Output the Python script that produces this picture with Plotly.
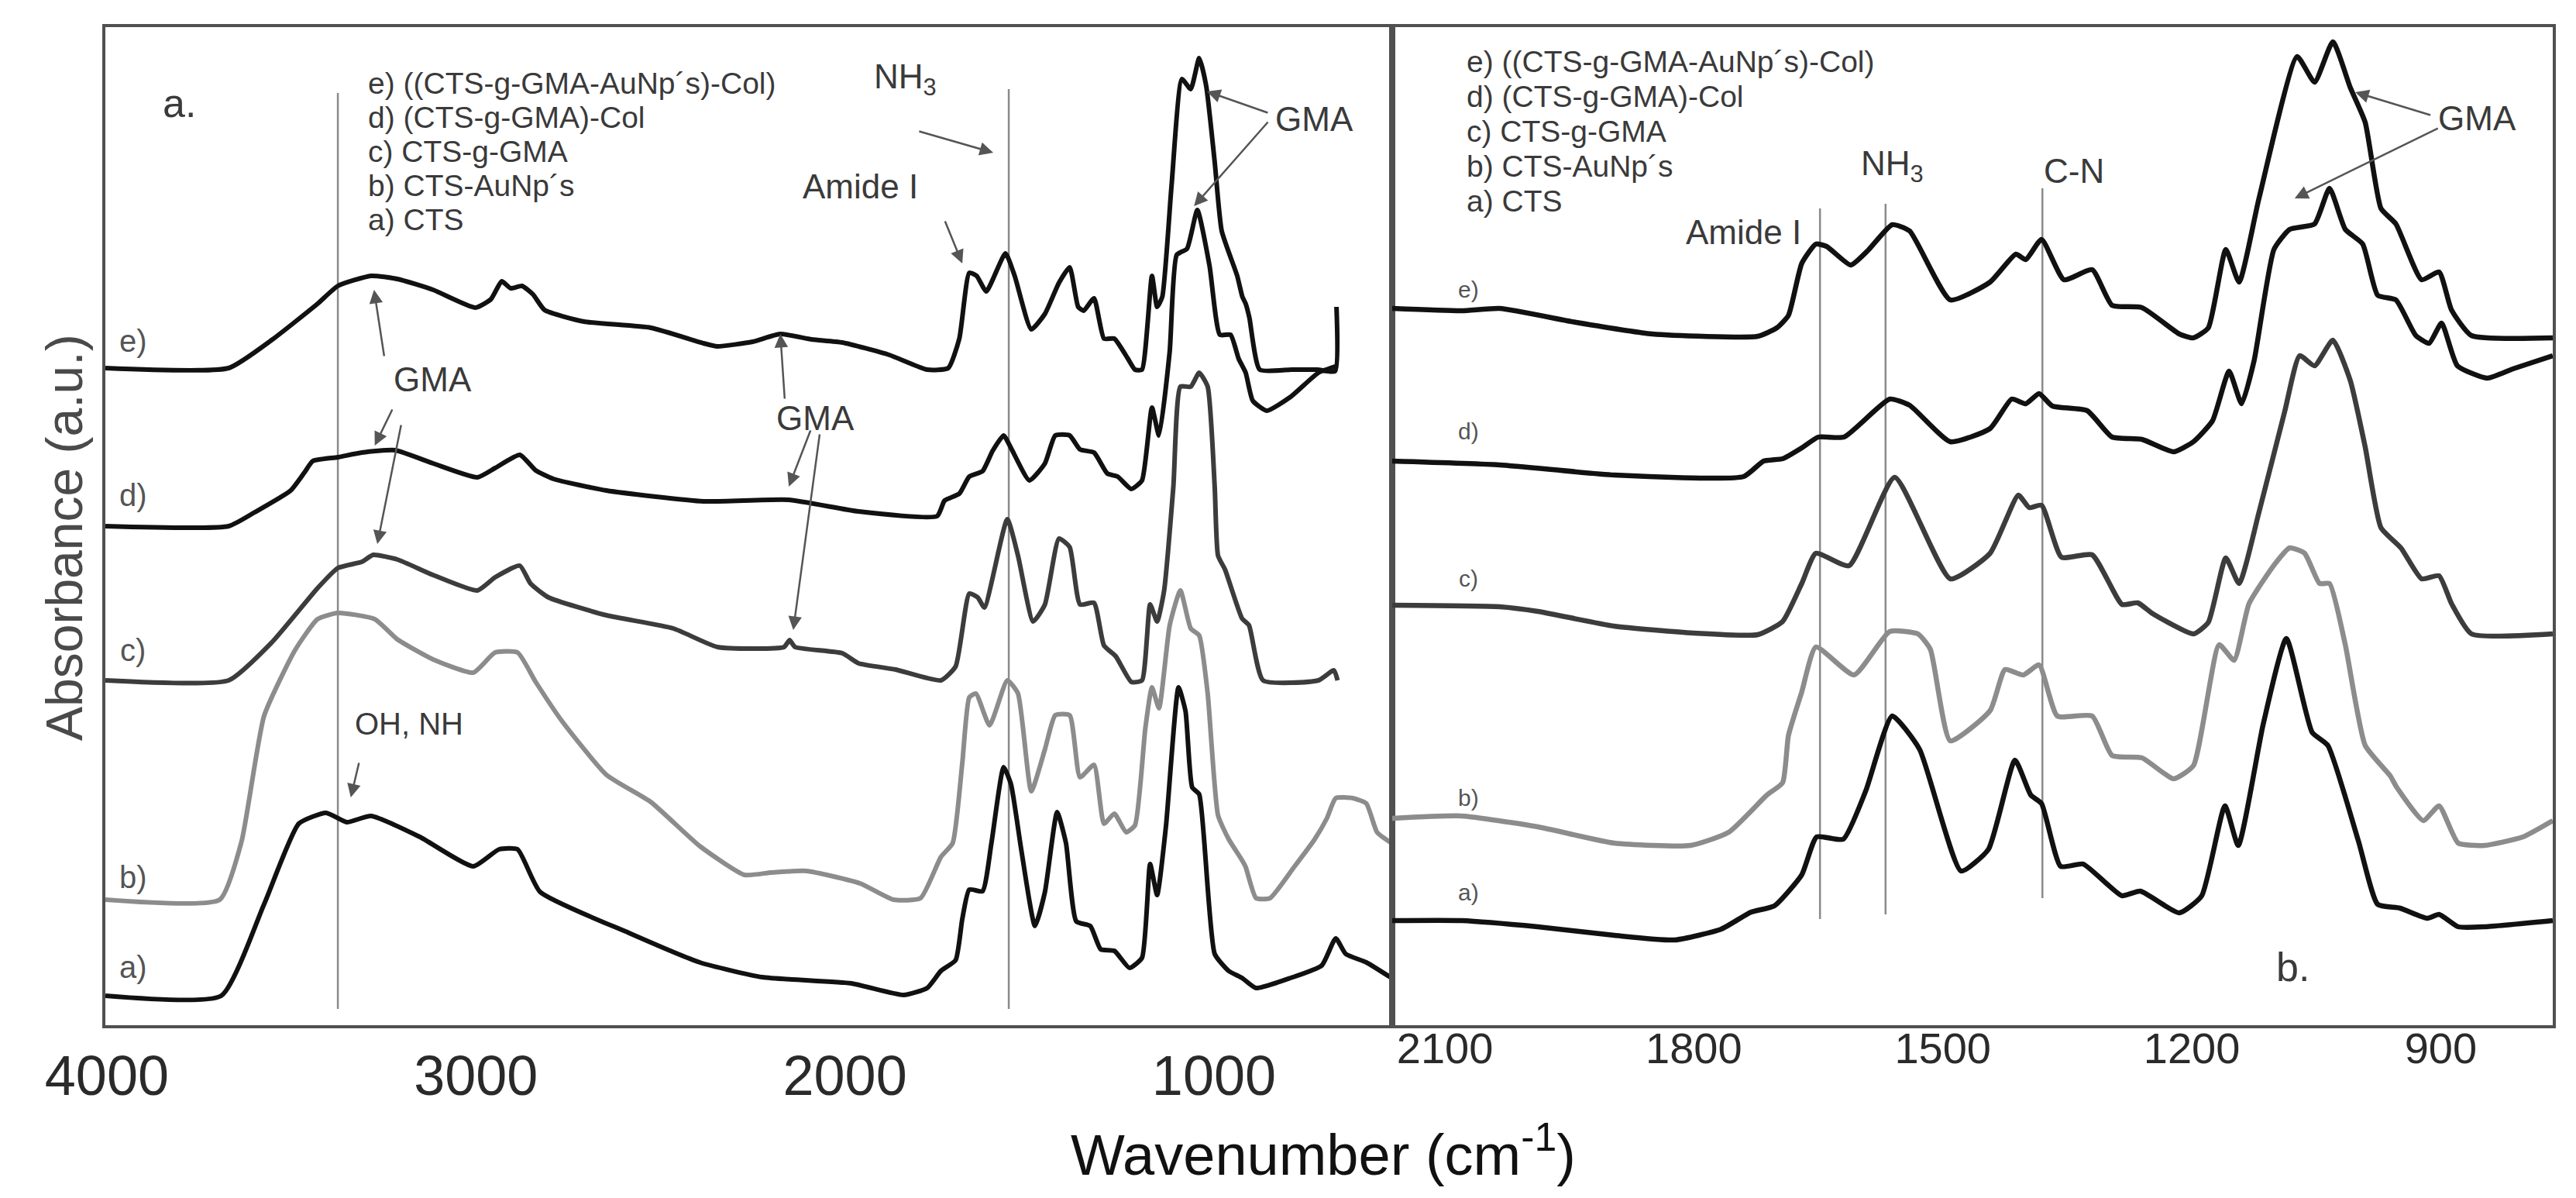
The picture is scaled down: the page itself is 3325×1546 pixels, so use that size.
import plotly.graph_objects as go

# ---------------- data (wavenumber, absorbance in stacked a.u.) ----------------
left_a_wn = [4004, 3690, 3574, 3480, 3406, 3350, 3284, 3152, 3007, 2937, 2887, 2826, 2585, 2393, 2224, 1983, 1841,
             1777, 1740, 1700, 1682, 1663, 1627, 1603, 1570, 1550, 1522, 1485, 1458, 1425, 1401, 1373, 1335, 1307,
             1270, 1229, 1195, 1173, 1154, 1130, 1096, 1077, 1059, 1040, 998, 960, 924, 886, 792, 708, 670, 643, 587, 519]
left_a_abs = [0.38, 0.38, 1.56, 2.60, 2.74, 2.62, 2.70, 2.43, 2.05, 2.27, 2.27, 1.72, 1.19, 0.81, 0.62, 0.54, 0.39,
              0.48, 0.70, 0.84, 1.37, 1.75, 1.73, 2.35, 3.33, 3.11, 2.26, 1.28, 1.72, 2.75, 2.35, 1.34, 1.28, 0.98,
              0.96, 0.74, 0.87, 2.08, 1.68, 2.57, 4.36, 4.05, 3.07, 2.98, 0.92, 0.70, 0.61, 0.48, 0.61, 0.77, 1.12, 0.92, 0.81, 0.61]

left_b_wn = [4004, 3694, 3635, 3574, 3490, 3429, 3374, 3274, 3213, 3116, 3007, 2948, 2887, 2838, 2766, 2646, 2526,
             2393, 2272, 2200, 2104, 1959, 1869, 1795, 1740, 1708, 1682, 1663, 1645, 1608, 1560, 1531, 1495, 1458,
             1430, 1391, 1363, 1325, 1298, 1270, 1238, 1214, 1186, 1168, 1149, 1120, 1091, 1063, 1040, 1017, 989,
             960, 924, 914, 886, 848, 783, 727, 694, 670, 624, 587, 558, 519]
left_b_abs = [1.62, 1.62, 2.37, 3.99, 4.84, 5.24, 5.32, 5.24, 4.98, 4.72, 4.55, 4.81, 4.81, 4.43, 3.92, 3.23, 2.88,
              2.31, 1.94, 1.97, 1.99, 1.83, 1.62, 1.64, 2.17, 2.35, 3.38, 4.23, 4.28, 3.87, 4.45, 4.28, 3.02, 3.56,
              4.00, 4.00, 3.20, 3.36, 2.60, 2.73, 2.49, 2.58, 3.83, 4.36, 4.09, 5.16, 5.61, 5.12, 5.03, 4.28, 2.71,
              2.40, 2.13, 2.04, 1.64, 1.64, 2.04, 2.40, 2.67, 2.93, 2.93, 2.86, 2.49, 2.35]

left_c_wn = [4004, 3670, 3551, 3429, 3374, 3309, 3278, 3213, 3116, 2996, 2948, 2881, 2852, 2803, 2646, 2465, 2345,
             2165, 2150, 2135, 2007, 1963, 1863, 1740, 1700, 1663, 1640, 1622, 1560, 1531, 1490, 1458, 1420, 1391,
             1363, 1325, 1298, 1266, 1224, 1195, 1173, 1154, 1135, 1110, 1091, 1063, 1040, 1017, 998, 989, 970,
             924, 905, 867, 717, 675, 665]
left_c_abs = [4.45, 4.45, 4.95, 5.64, 5.90, 5.98, 6.07, 6.01, 5.81, 5.61, 5.78, 5.93, 5.70, 5.52, 5.29, 5.12, 4.88,
              4.88, 4.97, 4.88, 4.80, 4.67, 4.59, 4.45, 4.63, 5.57, 5.52, 5.39, 6.53, 6.06, 5.21, 5.43, 6.28, 6.17,
              5.43, 5.45, 4.90, 4.76, 4.43, 4.45, 5.43, 5.21, 5.61, 6.95, 8.24, 8.24, 8.42, 8.24, 6.95, 6.06, 5.88,
              5.25, 5.16, 4.45, 4.45, 4.58, 4.45]

left_d_wn = [4004, 3670, 3599, 3502, 3465, 3442, 3374, 3309, 3219, 3116, 2996, 2948, 2881, 2838, 2790, 2646, 2383,
             2153, 1963, 1750, 1730, 1690, 1663, 1627, 1600, 1570, 1548, 1500, 1458, 1430, 1391, 1363, 1325, 1289,
             1261, 1224, 1195, 1168, 1149, 1120, 1101, 1073, 1045, 1012, 984, 955, 933, 914, 895, 857, 792, 717, 665]
left_d_abs = [6.44, 6.44, 6.62, 6.90, 7.13, 7.28, 7.33, 7.39, 7.42, 7.25, 7.07, 7.19, 7.36, 7.16, 7.05, 6.90, 6.76,
              6.78, 6.63, 6.57, 6.77, 6.86, 7.08, 7.15, 7.41, 7.61, 7.43, 7.03, 7.25, 7.61, 7.61, 7.43, 7.39, 7.12,
              7.08, 6.92, 7.03, 7.97, 7.61, 8.69, 9.94, 10.02, 10.52, 9.80, 8.91, 8.91, 8.60, 8.42, 8.06, 7.93, 8.11, 8.42, 8.51]

left_e_wn = [4004, 3670, 3551, 3429, 3374, 3284, 3213, 3116, 3001, 2959, 2930, 2906, 2875, 2845, 2814, 2707, 2526,
             2383, 2346, 2250, 2176, 2090, 2007, 1880, 1777, 1720, 1690, 1663, 1643, 1617, 1565, 1540, 1495, 1458,
             1420, 1391, 1368, 1353, 1325, 1298, 1270, 1233, 1214, 1195, 1168, 1154, 1140, 1115, 1087, 1063, 1040,
             1021, 998, 979, 937, 923, 914, 904, 876, 790, 720, 672, 668]
left_e_abs = [8.48, 8.48, 8.85, 9.31, 9.54, 9.67, 9.63, 9.49, 9.26, 9.37, 9.60, 9.51, 9.54, 9.43, 9.23, 9.08, 9.00,
              8.80, 8.76, 8.82, 8.92, 8.85, 8.81, 8.65, 8.46, 8.48, 8.86, 9.71, 9.67, 9.47, 9.96, 9.67, 8.98, 9.18,
              9.58, 9.78, 9.27, 9.22, 9.38, 8.86, 8.86, 8.60, 8.46, 8.46, 9.67, 9.27, 9.40, 10.83, 12.21, 12.08, 12.48,
              12.12, 11.14, 10.25, 9.67, 9.40, 9.31, 9.13, 8.46, 8.46, 8.46, 8.44, 9.27]

right_a_wn = [2164, 2080, 1988, 1896, 1823, 1767, 1731, 1703, 1670, 1652, 1620, 1593, 1561, 1528, 1478, 1445, 1413,
              1394, 1381, 1358, 1331, 1303, 1284, 1262, 1215, 1188, 1160, 1144, 1114, 1086, 1055, 1036, 999, 976,
              949, 916, 902, 879, 847, 765]
right_a_abs = [1.35, 1.35, 1.27, 1.16, 1.10, 1.24, 1.46, 1.54, 1.94, 2.43, 2.40, 3.02, 3.99, 3.56, 1.99, 2.27, 3.42,
               2.97, 2.86, 2.05, 2.08, 1.83, 1.67, 1.73, 1.45, 1.67, 2.83, 2.32, 3.88, 4.99, 3.78, 3.61, 2.37, 1.56,
               1.51, 1.38, 1.43, 1.27, 1.27, 1.35]

right_b_wn = [2164, 2080, 1988, 1896, 1804, 1758, 1712, 1693, 1686, 1670, 1653, 1607, 1564, 1530, 1515, 1491, 1443,
              1425, 1403, 1384, 1362, 1320, 1296, 1260, 1222, 1198, 1167, 1149, 1131, 1100, 1082, 1064, 1046, 1034,
              1015, 991, 961, 953, 921, 902, 879, 847, 801, 765]
right_b_abs = [2.67, 2.70, 2.56, 2.35, 2.32, 2.49, 2.97, 3.13, 3.74, 4.30, 4.88, 4.52, 5.08, 5.05, 4.85, 3.67, 4.06,
               4.59, 4.52, 4.65, 3.99, 3.99, 3.48, 3.45, 3.18, 3.35, 4.91, 4.71, 5.44, 5.95, 6.16, 6.09, 5.70, 5.70,
               4.91, 3.61, 3.22, 3.07, 2.64, 2.83, 2.35, 2.32, 2.43, 2.64]

right_c_wn = [2164, 2034, 1988, 1896, 1800, 1723, 1693, 1670, 1653, 1613, 1558, 1491, 1443, 1409, 1396, 1381, 1357,
              1320, 1284, 1265, 1247, 1198, 1180, 1159, 1143, 1119, 1088, 1070, 1052, 1030, 1009, 991, 972, 948,
              923, 902, 887, 863, 765]
right_c_abs = [5.42, 5.40, 5.34, 5.15, 5.06, 5.04, 5.21, 5.70, 6.09, 5.93, 7.07, 5.76, 6.09, 6.84, 6.68, 6.71, 6.04,
               6.07, 5.43, 5.45, 5.31, 5.05, 5.20, 6.03, 5.70, 6.62, 7.92, 8.64, 8.51, 8.84, 8.32, 7.46, 6.42, 6.16,
               5.76, 5.80, 5.44, 5.05, 5.05]

right_d_wn = [2164, 2034, 1896, 1740, 1716, 1693, 1670, 1650, 1619, 1564, 1540, 1491, 1443, 1417, 1400, 1384, 1368,
              1326, 1296, 1260, 1222, 1198, 1175, 1155, 1140, 1125, 1101, 1082, 1052, 1034, 1015, 994, 976, 954,
              930, 914, 899, 880, 844, 813, 765]
right_d_abs = [7.28, 7.23, 7.10, 7.08, 7.28, 7.31, 7.45, 7.59, 7.59, 8.08, 8.00, 7.53, 7.70, 8.08, 8.02, 8.15, 7.99,
               7.93, 7.59, 7.56, 7.40, 7.53, 7.80, 8.44, 8.02, 8.57, 10.01, 10.27, 10.34, 10.80, 10.27, 10.08, 9.42,
               9.36, 8.90, 8.80, 9.06, 8.51, 8.35, 8.47, 8.64]

right_e_wn = [2164, 2080, 2034, 1942, 1850, 1723, 1700, 1686, 1670, 1653, 1640, 1611, 1590, 1561, 1540, 1491, 1443,
              1412, 1400, 1381, 1354, 1320, 1296, 1260, 1215, 1198, 1180, 1159, 1143, 1119, 1073, 1052, 1030, 1009,
              991, 972, 954, 923, 902, 887, 863, 765]
right_e_abs = [9.25, 9.22, 9.25, 9.07, 8.92, 8.89, 9.00, 9.16, 9.83, 10.08, 10.05, 9.81, 10.00, 10.33, 10.25, 9.36,
               9.59, 9.95, 9.88, 10.14, 9.62, 9.75, 9.29, 9.26, 8.92, 8.87, 9.00, 10.01, 9.59, 10.67, 12.50, 12.17,
               12.69, 12.10, 11.65, 10.54, 10.34, 9.62, 9.72, 9.23, 8.90, 8.87]

curve_keys = ["a", "b", "c", "d", "e"]
curve_labels = ["a)", "b)", "c)", "d)", "e)"]
legend_lines = ["e) ((CTS-g-GMA-AuNp´s)-Col)", "d) (CTS-g-GMA)-Col", "c) CTS-g-GMA",
                "b) CTS-AuNp´s", "a) CTS"]
left_ticks = [4000, 3000, 2000, 1000]
right_ticks = [2100, 1800, 1500, 1200, 900]

left_data = {"a": (left_a_wn, left_a_abs), "b": (left_b_wn, left_b_abs), "c": (left_c_wn, left_c_abs),
             "d": (left_d_wn, left_d_abs), "e": (left_e_wn, left_e_abs)}
right_data = {"a": (right_a_wn, right_a_abs), "b": (right_b_wn, right_b_abs), "c": (right_c_wn, right_c_abs),
              "d": (right_d_wn, right_d_abs), "e": (right_e_wn, right_e_abs)}

# ---------------- styling ----------------
W, H = 3325, 1546
FONT = "Liberation Sans, Arial, sans-serif"
colors = {"a": "#111111", "b": "#8c8c8c", "c": "#3c3c3c", "d": "#111111", "e": "#111111"}
TXT = "#3a3a3a"
ARW = "#555555"

fig = go.Figure()
for k in curve_keys:
    wn, ab = left_data[k]
    fig.add_trace(go.Scatter(x=wn, y=ab, mode="lines", xaxis="x", yaxis="y",
                             line=dict(color=colors[k], width=6, shape="spline", smoothing=0.5),
                             showlegend=False, hoverinfo="skip"))
for k in curve_keys:
    wn, ab = right_data[k]
    fig.add_trace(go.Scatter(x=wn, y=ab, mode="lines", xaxis="x2", yaxis="y2",
                             line=dict(color=colors[k], width=6.5, shape="spline", smoothing=0.5),
                             showlegend=False, hoverinfo="skip"))

x0, x1, x2 = 128 / W, 1789 / W, 3287 / W
yb, yt = 1 - 1315 / H, 1 - 27 / H
YMAX = 12.88

frame = dict(showline=True, mirror=True, linecolor="#505050", linewidth=4, showgrid=False, zeroline=False,
             automargin=False)

layout = dict(
    width=W, height=H, margin=dict(l=0, r=0, t=0, b=0, pad=0, autoexpand=False),
    paper_bgcolor="white", plot_bgcolor="white",
    xaxis=dict(domain=[x0, x1], range=[4004, 517], tickvals=left_ticks, ticks="",
               tickfont=dict(family=FONT, size=72, color="#2a2a2a"), ticklabelstandoff=0, anchor="y", **frame),
    yaxis=dict(domain=[yb, yt], range=[0, YMAX], showticklabels=False, ticks="", anchor="x", **frame),
    xaxis2=dict(domain=[x1, x2], range=[2163.5, 765], tickvals=right_ticks, ticks="",
                tickfont=dict(family=FONT, size=56, color="#2a2a2a"), ticklabelstandoff=-22, anchor="y2", **frame),
    yaxis2=dict(domain=[yb, yt], range=[0, YMAX], showticklabels=False, ticks="", anchor="x2", **frame),
)
fig.update_layout(**layout)

ann = []

def text(xr, yr, x, y, t, size, color=TXT, xanchor="center"):
    ann.append(dict(xref=xr, yref=yr, x=x, y=y, text=t, showarrow=False, xanchor=xanchor, yanchor="middle",
                    font=dict(family=FONT, size=size, color=color)))

def arrow(xr, yr, hx, hy, tx, ty):
    ann.append(dict(xref=xr, yref=yr, axref=xr, ayref=yr, x=hx, y=hy, ax=tx, ay=ty, text="",
                    showarrow=True, arrowhead=2, arrowsize=1.4, arrowwidth=2.5, arrowcolor=ARW))

# left panel texts
text("x", "y", 3803, 11.90, "a.", 52)
left_legend_y = [12.16, 11.72, 11.28, 10.84, 10.40]
for t, yy in zip(legend_lines, left_legend_y):
    text("x", "y", 3297, yy, t, 39, xanchor="left")
left_label_y = [0.75, 1.91, 4.84, 6.84, 8.83]
for t, yy in zip(curve_labels, left_label_y):
    text("x", "y", 3929, yy, t, 40, color="#555555")
text("x", "y", 1837, 12.21, "NH<sub>3</sub>", 44)
text("x", "y", 1959, 10.83, "Amide I", 44)
text("x", "y", 729, 11.70, "GMA", 44)
text("x", "y", 2079, 7.84, "GMA", 44)
text("x", "y", 3116, 8.34, "GMA", 44)
text("x", "y", 3181, 3.89, "OH, NH", 40)

arrow("x", "y", 1598, 11.26, 1802, 11.54)
arrow("x", "y", 1682, 9.83, 1730, 10.39)
arrow("x", "y", 1019, 12.05, 851, 11.77)
arrow("x", "y", 1054, 10.57, 851, 11.67)
arrow("x", "y", 2175, 8.92, 2163, 8.07)
arrow("x", "y", 2152, 6.95, 2092, 7.69)
arrow("x", "y", 2140, 5.10, 2068, 7.64)
arrow("x", "y", 3276, 9.49, 3248, 8.62)
arrow("x", "y", 3274, 7.48, 3225, 7.96)
arrow("x", "y", 3267, 6.21, 3202, 7.76)
arrow("x", "y", 3339, 2.94, 3316, 3.40)

# right panel texts
right_legend_y = [12.44, 11.99, 11.54, 11.09, 10.64]
for t, yy in zip(legend_lines, right_legend_y):
    text("x2", "y2", 2076, yy, t, 39, xanchor="left")
right_label_y = [1.72, 2.94, 5.77, 7.67, 9.50]
for t, yy in zip(curve_labels, right_label_y):
    text("x2", "y2", 2072, yy, t, 30, color="#555555")
text("x2", "y2", 1740, 10.24, "Amide I", 44)
text("x2", "y2", 1561, 11.09, "NH<sub>3</sub>", 44)
text("x2", "y2", 1342, 11.03, "C-N", 44)
text("x2", "y2", 856, 11.71, "GMA", 44)
text("x2", "y2", 1078, 0.75, "b.", 52)
arrow("x2", "y2", 1003, 12.04, 911, 11.74)
arrow("x2", "y2", 1076, 10.67, 902, 11.58)

# shared axis titles
ann.append(dict(xref="paper", yref="paper", x=1700 / W, y=1 - 1477 / H, text="Wavenumber (cm<sup>-1</sup>)",
                showarrow=False, xanchor="center", yanchor="middle", font=dict(family=FONT, size=74, color="#111")))
ann.append(dict(xref="paper", yref="paper", x=75 / W, y=1 - 686 / H, text="Absorbance (a.u.)", textangle=-90,
                showarrow=False, xanchor="center", yanchor="middle", font=dict(family=FONT, size=66, color="#4a4a4a")))
fig.update_layout(annotations=ann)

# reference lines
left_lines = [(3374, 0.21, 12.03), (1556, 0.21, 12.08)]
right_lines = [(1648, 1.37, 10.54), (1569, 1.43, 10.60), (1380, 1.64, 10.80)]
shapes = []
for wn, lo, hi in left_lines:
    shapes.append(dict(type="line", xref="x", yref="y", x0=wn, x1=wn, y0=lo, y1=hi,
                       line=dict(color="#8a8a8a", width=2.5), layer="below"))
for wn, lo, hi in right_lines:
    shapes.append(dict(type="line", xref="x2", yref="y2", x0=wn, x1=wn, y0=lo, y1=hi,
                       line=dict(color="#8a8a8a", width=2.5), layer="below"))
fig.update_layout(shapes=shapes)

fig.write_html("out.html")
